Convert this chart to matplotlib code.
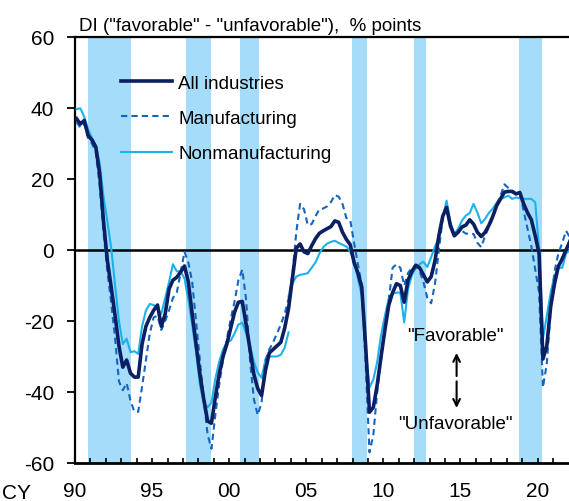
import matplotlib
matplotlib.use("Agg")
import matplotlib.pyplot as plt
import numpy as np
import pandas as pd

# ---------------- data ----------------
quarters = pd.period_range("1990Q1", "2022Q1", freq="Q")

all_industries = [
    37, 35.5, 36.5, 32.3, 31, 29, 21.5, 8,
    -3, -10.5, -18.5, -27, -33, -31, -34.7, -35.8,
    -35.8, -26.5, -21.5, -19, -17, -15.5, -21.5, -18,
    -11, -8.5, -7.7, -6.2, -4.5, -9, -18, -26.5,
    -35, -42, -48.2, -48.8, -41.5, -35, -30, -26.5,
    -22, -17.5, -14.7, -14.5, -21, -28, -35, -39,
    -41, -34, -29, -28, -27, -26, -22, -16.5,
    -8, 0.5, 1.7, -0.5, -1, 1.2, 3.2, 4.7,
    5.4, 6, 6.6, 8.2, 7.8, 5, 3, 1.5,
    -3.5, -6.5, -10.5, -27, -45.7, -44.3, -38, -30,
    -22.5, -15.5, -12, -9.5, -10, -14.7, -8.5, -6,
    -4.3, -5, -7, -9, -7.5, -3, 4, 9.5,
    12, 6.8, 4, 5, 6.5, 7, 8.5, 7.3,
    5, 3.8, 5, 7, 9.5, 12.5, 14.4, 16.3,
    16.5, 16.5, 15.8, 16.2, 13, 10.5, 8.5, 4,
    -1, -30.7, -27, -16, -9.5, -4.6, -2.5, 0, 2.5,
]

manufacturing = [
    36, 34.5, 35.5, 31.5, 30, 27.5, 18, 5,
    -6, -15, -25, -37, -39.5, -37.5, -42.5, -45.5,
    -45.6, -38.5, -31, -23.5, -19, -18.5, -22.5, -20,
    -17, -13.5, -12, -6.5, -0.5, -3.5, -9, -20,
    -31, -42, -52, -56, -46.5, -38, -31, -25,
    -19.5, -14.5, -8.5, -5.5, -14, -31, -42, -46.5,
    -43, -31, -28, -26, -23.5, -21, -18, -13.8,
    -7, 5, 13, 11.5, 7, 7.3, 9.5, 11.5,
    11.7, 12.3, 13.5, 15.5, 15, 13, 9, 8.5,
    2, -4, -10, -32, -57, -52, -40, -31,
    -21, -14, -5, -4, -5, -10, -6.5, -5,
    -4.4, -6, -9, -13.5, -15, -9.5, 0, 9,
    12, 6.5, 4.8, 4.8, 5.4, 4.6, 4.6, 4.5,
    2, 0.8, 4, 6.5, 9, 13, 15.3, 18.5,
    17.5, 16.7, 16, 16.2, 11, 6, 1, -5.5,
    -12, -38.7, -32, -17, -6, -1, 2, 5.4, 3.5,
]

# nonmanufacturing: old survey basis (1990Q1-2003Q4), new basis (2003Q4-2022Q1)
nonmanufacturing_old = [
    39.7, 39.9, 37.5, 34, 31.5, 29.5, 24.5, 15,
    8, 0.5, -10, -20, -26.5, -25, -28.8, -28.5,
    -29.3, -21.5, -17, -15.2, -15.5, -16.5, -18, -13.5,
    -9, -4, -6, -6, -8, -14, -21, -28.5,
    -38, -43, -44.3, -43, -36.3, -31.5, -28, -26,
    -25.5, -23.5, -21, -20.5, -23.5, -27, -31.5, -34.5,
    -36, -31, -30, -30, -30, -29.5, -27.5, -23.2,
]
nonmanufacturing_new = [
    -13,
    -9.5, -7.5, -7, -6.8, -6.5, -5, -3.5, -1,
    0.8, 1.8, 2.3, 2.6, 2, 1.5, 1, -0.5,
    -3, -8, -13, -28, -38.7, -36.5, -31.5, -24,
    -18.5, -13.8, -12.3, -12, -12, -20.4, -11, -7.2,
    -5, -4, -3.3, -4.8, -2, 1, 3.5, 9,
    13.9, 7.8, 4.5, 6, 8.3, 9.7, 10.4, 13,
    10.5, 7.5, 8.8, 10.5, 11.7, 13.3, 14.4, 14.8,
    15.3, 14.4, 14.8, 14.6, 14.4, 14.4, 14.4, 13.4,
    0.3, -25, -18.5, -12, -7.2, -5, -5, -1, 0,
]
new_basis_start = "2003Q4"

# recession periods (shaded), decimal years
recession_start = [1990.86, 1997.19, 2000.69, 2007.96, 2012.01, 2018.79]
recession_end = [1993.65, 1998.85, 2001.94, 2008.92, 2012.74, 2020.29]

year_ticks = list(range(1990, 2022))
year_labels = {1990: "90", 1995: "95", 2000: "00", 2005: "05",
               2010: "10", 2015: "15", 2020: "20"}

# ---------------- style ----------------
FONT = ["Liberation Sans", "DejaVu Sans"]
plt.rcParams["font.family"] = FONT

C_ALL = "#0B1F63"
C_MFG = "#1565C0"
C_NON = "#1AB2EC"
C_BAND = "#A5DCFA"

fig = plt.figure(figsize=(5.69, 5.02), dpi=100)
ax = fig.add_axes([75 / 569, 38 / 502, 494 / 569, 426 / 502])

# x positions of quarterly observations
xq = np.array([q.year + (q.quarter - 1) / 4 + 0.1 for q in quarters])
i_new = list(quarters).index(pd.Period(new_basis_start, freq="Q"))

for s, e in zip(recession_start, recession_end):
    ax.axvspan(s, e, color=C_BAND, lw=0, zorder=0)

ax.axhline(0, color="black", lw=1.8, zorder=2)

ax.plot(xq[:len(nonmanufacturing_old)], nonmanufacturing_old,
        color=C_NON, lw=1.5, zorder=3)
ax.plot(xq[i_new:i_new + len(nonmanufacturing_new)], nonmanufacturing_new,
        color=C_NON, lw=1.5, zorder=3, label="Nonmanufacturing")
ax.plot(xq[:len(manufacturing)], manufacturing, color=C_MFG, lw=1.5,
        ls=(0, (3, 2)), zorder=4, label="Manufacturing")
ax.plot(xq[:len(all_industries)], all_industries, color=C_ALL, lw=2.6,
        zorder=5, label="All industries")

ax.set_xlim(1990, 2022.04)
ax.set_ylim(-60, 60)

ax.set_yticks(range(-60, 61, 20))
ax.set_yticklabels([str(v) for v in range(-60, 61, 20)], fontsize=15)
ax.tick_params(axis="y", direction="out", length=6, width=1.3, pad=9)

ax.set_xticks(year_ticks)
ax.set_xticklabels([year_labels.get(y, "") for y in year_ticks], fontsize=15)
ax.tick_params(axis="x", direction="in", length=3.8, width=1.2, pad=13)

for side in ["left", "top"]:
    ax.spines[side].set_linewidth(1.6)
ax.spines["bottom"].set_linewidth(2.0)
ax.spines["right"].set_visible(False)

handles, labels = ax.get_legend_handles_labels()
order = [2, 1, 0]
leg = ax.legend([handles[k] for k in order], [labels[k] for k in order],
                loc="upper left", bbox_to_anchor=(0.0931, 0.9115),
                frameon=False, fontsize=13.5, handlelength=2.7,
                handletextpad=0.35, labelspacing=0.96, borderpad=0,
                borderaxespad=0)

fig.text(79 / 569, 1 - 30.8 / 502,
         'DI ("favorable" - "unfavorable"),  % points',
         fontsize=13.5, ha="left", va="baseline")
fig.text(2 / 569, 1 - 499.5 / 502, "CY", fontsize=15, ha="left",
         va="baseline")

ax.text(2014.7, -24.0, '"Favorable"', fontsize=13.5, ha="center",
        va="center")
ax.text(2014.7, -49.0, '"Unfavorable"', fontsize=13.5, ha="center",
        va="center")
ax.annotate("", xy=(2014.75, -29.0), xytext=(2014.75, -35.5),
            arrowprops=dict(arrowstyle="->", lw=1.5, color="black",
                            mutation_scale=12, shrinkA=0, shrinkB=0))
ax.annotate("", xy=(2014.75, -44.5), xytext=(2014.75, -37.0),
            arrowprops=dict(arrowstyle="->", lw=1.5, color="black",
                            mutation_scale=12, shrinkA=0, shrinkB=0))

fig.savefig("out.png", dpi=100)
